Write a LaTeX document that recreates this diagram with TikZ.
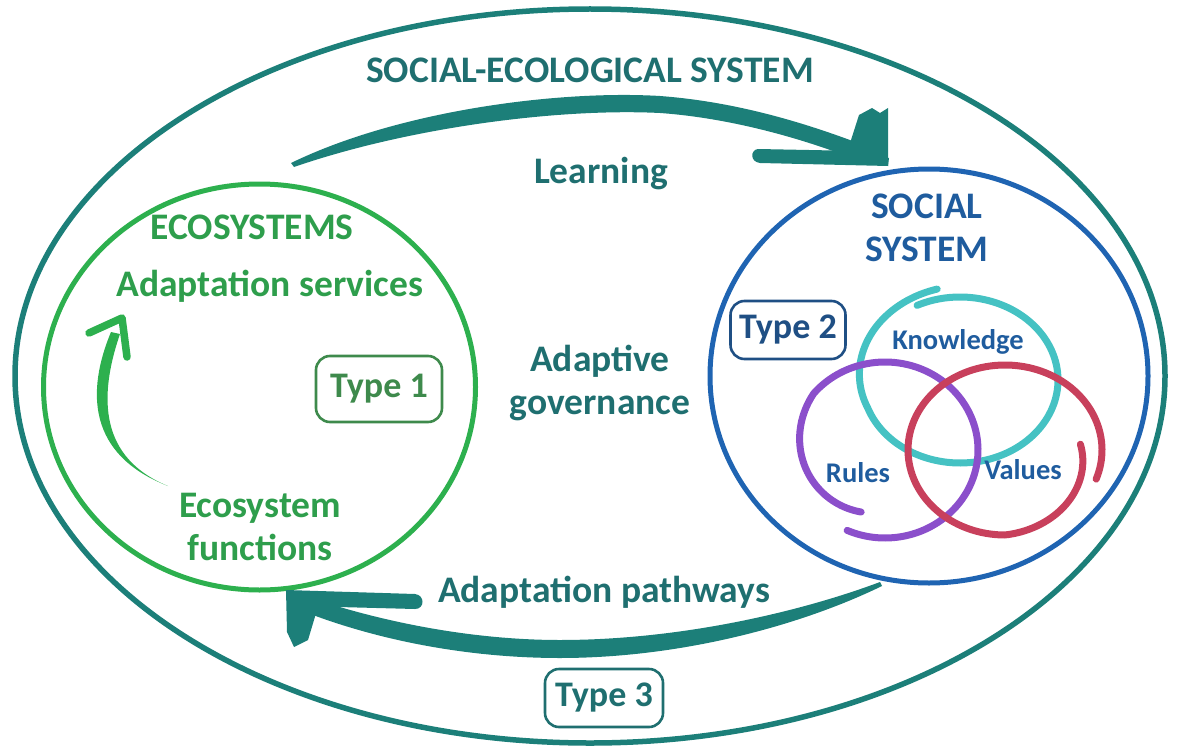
\documentclass[tikz,border=0pt]{standalone}
\usepackage{fontspec}
\setmainfont{Carlito}
\definecolor{teal1}{HTML}{1C7F79}
\definecolor{tealtext}{HTML}{1F6F70}
\definecolor{ecogreen}{HTML}{2DB04E}
\definecolor{greentext}{HTML}{2E9E4C}
\definecolor{type1green}{HTML}{3E8A4C}
\definecolor{socblue}{HTML}{1F64B2}
\definecolor{bluetext}{HTML}{1F5C9E}
\definecolor{type2blue}{HTML}{1F4F84}
\definecolor{kcyan}{HTML}{45C2C3}
\definecolor{rpurple}{HTML}{8B4FCB}
\definecolor{vred}{HTML}{C8405C}
\begin{document}
\begin{tikzpicture}[x=1pt,y=-1pt,
  big/.style={font=\fontsize{37.5}{40}\selectfont\bfseries},
  small/.style={font=\fontsize{28.5}{32}\selectfont\bfseries, text=bluetext},
  typebox/.style={draw, line width=2.6pt, rounded corners=14pt, inner sep=0pt, font=\fontsize{36}{40}\selectfont\bfseries},
  loop/.style={line width=7pt, line cap=round}
]
\useasboundingbox (0,0) rectangle (1177,749);
% outer ellipse
\draw[teal1, line width=5.5pt] (590,376) ellipse [x radius=575, y radius=367];
% ecosystem circle
\draw[ecogreen, line width=5pt] (259.5,387) ellipse [x radius=216, y radius=203];
% social circle
\draw[socblue, line width=5pt] (929,376) ellipse [x radius=219, y radius=207];

% top brush arrow (Learning)
\coordinate (tstart) at (291,163);
\coordinate (thead) at (888,166);
\fill[teal1] (tstart) .. controls (400,110) and (560,90) .. (660,96)
  .. controls (740,102) and (810,125) .. (858,143)
  -- (852,158) .. controls (800,138) and (730,118) .. (660,113)
  .. controls (560,108) and (410,127) .. (294,167) -- cycle;
\fill[teal1] (758,149) -- (860,151) -- (889,158) -- (thead) -- (760,163)
  .. controls (750,162) and (750,150) .. (758,149) -- cycle;
\fill[teal1] (859,115) -- (872,108) -- (880,113) -- (888,108) -- (thead) -- (852,160) -- (851,140) -- cycle;

% bottom brush arrow (Adaptation pathways)
\coordinate (bstart) at (880,582);
\coordinate (bhead) at (286,590);
\fill[teal1] (bstart) .. controls (800,612) and (680,640) .. (560,640)
  .. controls (480,640) and (390,625) .. (305,596)
  -- (305,612) .. controls (380,641) and (470,658) .. (560,658)
  .. controls (680,658) and (800,626) .. (882,586) -- cycle;
\fill[teal1] (bhead) -- (415,594) .. controls (425,595) and (425,609) .. (415,609) -- (300,606) -- cycle;
\fill[teal1] (bhead) -- (320,600) -- (308,640) -- (294,647) -- (287,632) -- cycle;

% green arrow inside ecosystems
\coordinate (gtip) at (122,318);
\fill[ecogreen] (111,332) .. controls (86,392) and (88,455) .. (168,486)
  .. controls (100,458) and (98,398) .. (120,334) -- cycle;
\draw[ecogreen, line width=7.5pt, line join=round, line cap=round] (89,333) -- (gtip) -- (127,357);

% Venn loops
\draw[kcyan, loop] plot[variable=\t, domain=102:476, samples=150, smooth]
  ({960+98*(1+0.12*max(0,200-\t)/98)*cos(\t)}, {380-83*(1+0.12*max(0,200-\t)/98)*sin(\t)});
\draw[rpurple, loop] plot[variable=\t, domain=246:610, samples=150, smooth]
  ({885+93*(1-0.25*max(0,\t-500)/110)*cos(\t)}, {450-88*(1-0.25*max(0,\t-500)/110)*sin(\t)});
\draw[vred, loop] plot[variable=\t, domain=-20:365, samples=150, smooth]
  ({1005+97*(1-0.22*max(0,\t-270)/95)*cos(\t)}, {450-85*(1-0.22*max(0,\t-270)/95)*sin(\t)});

% texts
\node[big, text=tealtext] (ses) at (590,70) {SOCIAL-ECOLOGICAL SYSTEM};
\node[big, text=tealtext] (learn) at (601,174) {Learning};
\node[big, text=tealtext, align=center] (gov) at (600,383) {Adaptive\\[3pt]governance};
\node[big, text=tealtext] (path) at (604,592) {Adaptation pathways};
\node[big, text=greentext] (eco) at (252,227) {ECOSYSTEMS};
\node[big, text=greentext] (serv) at (270,286) {Adaptation services};
\node[big, text=greentext, align=center] (func) at (260,527) {Ecosystem\\[3pt]functions};
\node[big, text=bluetext, align=center] (soc) at (927,228) {SOCIAL\\[3pt]SYSTEM};
\node[small] (know) at (958,342) {Knowledge};
\node[small] (rules) at (858,473) {Rules};
\node[small] (vals) at (1023,470) {Values};

% type boxes
\node[typebox, draw=type1green, text=type1green, minimum width=126pt, minimum height=66pt] (t1) at (379,389) {Type 1};
\node[typebox, draw=type2blue, text=type2blue, minimum width=115pt, minimum height=58pt] (t2) at (788,330) {Type 2};
\node[typebox, draw=tealtext, text=tealtext, minimum width=118pt, minimum height=58pt] (t3) at (604,698) {Type 3};
\end{tikzpicture}
\end{document}
